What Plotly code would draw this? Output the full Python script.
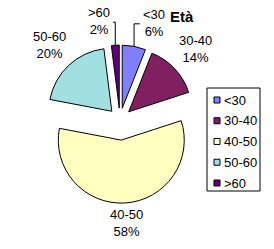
import math
import plotly.graph_objects as go

labels = ["<30", "30-40", "40-50", "50-60", ">60"]
values = [6, 14, 58, 20, 2]
colors = ["#8080FF", "#802060", "#FFFFC0", "#A0E0E0", "#600080"]
pulls = [0.19, 0.19, 0.32, 0.19, 0.19]
title_text = "Età"

W, H = 274, 249
FONT = "Liberation Sans, Arial"
cx, cy = 120, 120          # pie centre in pixels
r = 63                     # pie radius in pixels
half = r * (1 + max(pulls))
fig = go.Figure(go.Pie(
    labels=labels, values=values, sort=False, direction="clockwise", rotation=0,
    marker=dict(colors=colors, line=dict(color="black", width=1)),
    pull=pulls, textinfo="none", hoverinfo="label+percent",
    domain=dict(x=[(cx - half) / W, (cx + half) / W],
                y=[(H - cy - half) / H, (H - cy + half) / H]),
    showlegend=False,
))

px = lambda x: x / W
py = lambda y: 1 - y / H

shapes, annotations = [], []
total = sum(values)
cum = 0
for lab, v, p in zip(labels, values, pulls):
    frac = v / total
    mid = 2 * math.pi * (cum + frac / 2)
    cum += frac
    s, c = math.sin(mid), math.cos(mid)
    lx, ly = cx + 103 * s, cy - 103 * c
    small = frac < 0.1
    if small:
        sgn = 1 if s >= 0 else -1
        lx += 15 * sgn
        ly += 4
        ox, oy = cx + (r + p * r) * s, cy - (r + p * r) * c
        ex = lx - sgn * 14.5
        shapes.append(dict(type="path", xref="paper", yref="paper",
                           path=f"M {px(ox)} {py(oy)} L {px(ox)} {py(ly + 1)} L {px(ex)} {py(ly + 1)}",
                           line=dict(color="black", width=1)))
    annotations.append(dict(text=f"{lab}<br>{round(frac * 100)}%", xref="paper", yref="paper",
                            x=px(lx), y=py(ly), xanchor="center", yanchor="middle",
                            showarrow=False, align="center",
                            font=dict(family=FONT, size=13, color="black")))

# legend box with swatches
lx0, lx1, ly0, ly1 = 207, 260, 88, 191
shapes.append(dict(type="rect", xref="paper", yref="paper",
                   x0=px(lx0), x1=px(lx1), y0=py(ly1), y1=py(ly0),
                   line=dict(color="black", width=1), fillcolor="white", layer="above"))
for i, (lab, col) in enumerate(zip(labels, colors)):
    yc = 100 + i * 20.75
    shapes.append(dict(type="rect", xref="paper", yref="paper",
                       x0=px(214), x1=px(220), y0=py(yc + 3), y1=py(yc - 3),
                       line=dict(color="black", width=1), fillcolor=col, layer="above"))
    annotations.append(dict(text=lab, xref="paper", yref="paper", x=px(222), y=py(yc),
                            xanchor="left", yanchor="middle", showarrow=False,
                            font=dict(family=FONT, size=13, color="black")))

fig.update_layout(
    width=W, height=H, margin=dict(l=0, r=0, t=0, b=0),
    paper_bgcolor="white", plot_bgcolor="white",
    font=dict(family=FONT, size=13, color="black"),
    title=dict(text="<b>" + title_text + "</b>", x=px(170), xanchor="left",
               y=py(17), yanchor="middle",
               font=dict(family=FONT, size=15, color="black")),
    shapes=shapes, annotations=annotations,
)
fig.write_html("out.html")
